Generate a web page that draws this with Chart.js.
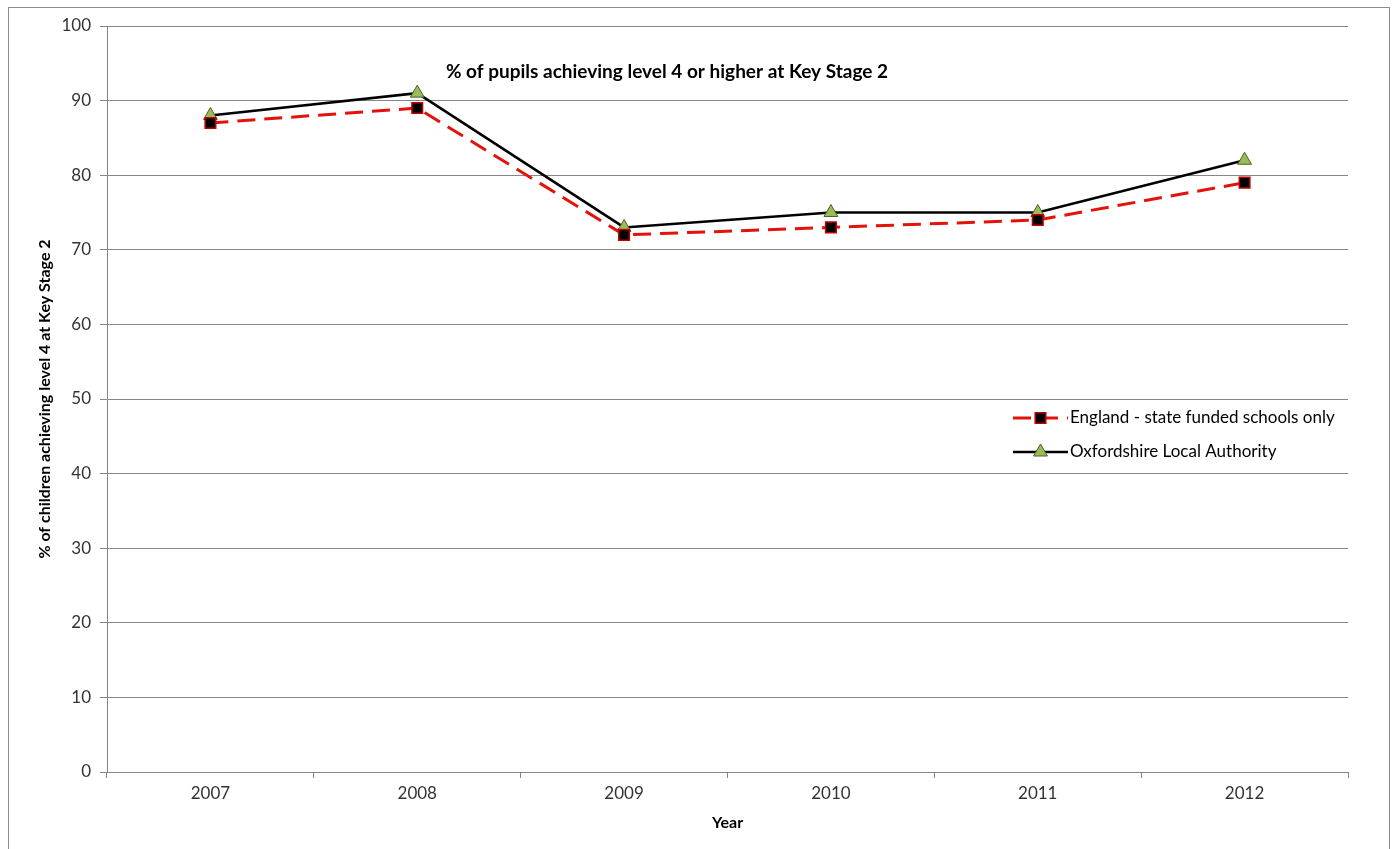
<!DOCTYPE html>
<html>
<head>
<meta charset="utf-8">
<script src="https://cdn.jsdelivr.net/npm/chart.js@4"></script>
<style>
  html, body { margin: 0; padding: 0; background: #fff; overflow: hidden; }
  #wrap { position: relative; width: 1392px; height: 849px; }
  #frame { position: absolute; left: 8px; top: 7px; width: 1382px; height: 860px; border: 1px solid #8c8c8c; box-sizing: border-box; }
  canvas { position: absolute; left: 0; top: 0; }
</style>
</head>
<body>
<div id="wrap">
  <div id="frame"></div>
  <canvas id="chart" width="1392" height="849"></canvas>
</div>
<script>
// data
const years = ['2007', '2008', '2009', '2010', '2011', '2012'];
const england = [87, 89, 72, 73, 74, 79];
const oxfordshire = [88, 91, 73, 75, 75, 82];
const yTicks = [0, 10, 20, 30, 40, 50, 60, 70, 80, 90, 100];

const chartTitle = '% of pupils achieving level 4 or higher at Key Stage 2';
const FONT = 'Lato, "Noto Sans", sans-serif';

// title and legend drawn inside the plot area
const insidePlugin = {
    id: 'inside',
    afterDraw(chart) {
        const ctx = chart.ctx;
        ctx.save();
        ctx.fillStyle = '#000';
        ctx.font = 'bold 19px ' + FONT;
        ctx.textAlign = 'center';
        ctx.textBaseline = 'middle';
        ctx.fillText(chartTitle, 667, 72);

        // legend
        const x0 = 1013, x1 = 1068;
        const ys = [418, 452];
        chart.data.datasets.forEach((ds, i) => {
            const y = ys[i];
            ctx.strokeStyle = ds.borderColor;
            ctx.lineWidth = ds.borderWidth;
            ctx.setLineDash(ds.borderDash || []);
            ctx.beginPath();
            ctx.moveTo(x0, y);
            ctx.lineTo(x1, y);
            ctx.stroke();
            ctx.setLineDash([]);
            ctx.fillStyle = ds.pointBackgroundColor;
            ctx.strokeStyle = ds.pointBorderColor;
            ctx.lineWidth = ds.pointBorderWidth;
            Chart.helpers.drawPoint(ctx, {
                pointStyle: ds.pointStyle,
                radius: ds.pointRadius,
                borderWidth: ds.pointBorderWidth
            }, (x0 + x1) / 2, y);
            ctx.fillStyle = '#000';
            ctx.font = '17px ' + FONT;
            ctx.textAlign = 'left';
            ctx.fillText(ds.label, x1 + 2, y);
        });
        ctx.restore();
    }
};

new Chart(document.getElementById('chart').getContext('2d'), {
    type: 'line',
    data: {
        labels: years,
        datasets: [
            {
                label: 'England - state funded schools only',
                data: england,
                borderColor: '#e3120b',
                borderWidth: 3,
                borderDash: [18, 9],
                pointStyle: 'rect',
                pointRadius: 7.5,
                pointBorderWidth: 1.5,
                pointBackgroundColor: '#000',
                pointBorderColor: '#c00000',
                tension: 0
            },
            {
                label: 'Oxfordshire Local Authority',
                data: oxfordshire,
                borderColor: '#000',
                borderWidth: 2.5,
                pointStyle: 'triangle',
                pointRadius: 8,
                pointBorderWidth: 1,
                pointBackgroundColor: '#9bbb59',
                pointBorderColor: '#4f6228',
                tension: 0
            }
        ]
    },
    options: {
        responsive: false,
        animation: false,
        devicePixelRatio: 1,
        layout: { padding: { left: 0, top: 26, right: 44, bottom: 0 } },
        plugins: {
            legend: { display: false },
            title: { display: false },
            tooltip: { enabled: false }
        },
        scales: {
            y: {
                min: 0,
                max: 100,
                afterBuildTicks: s => { s.ticks = yTicks.map(v => ({ value: v })); },
                afterFit: s => { s.width = 107; },
                grid: { color: '#868686', lineWidth: 1, tickLength: 7, drawTicks: true },
                border: { color: '#868686' },
                ticks: { color: '#333', font: { family: FONT, size: 17 }, padding: 9 },
                title: {
                    display: true,
                    text: '% of children achieving level 4 at Key Stage 2',
                    color: '#000',
                    font: { family: FONT, size: 16, weight: 'bold' },
                    padding: { top: 35, bottom: 0 }
                }
            },
            x: {
                offset: true,
                afterFit: s => { s.height = 77; },
                grid: { offset: true, drawOnChartArea: false, drawTicks: true, tickLength: 6, color: '#868686' },
                border: { color: '#868686' },
                ticks: { color: '#333', font: { family: FONT, size: 17 }, padding: 5 },
                title: {
                    display: true,
                    text: 'Year',
                    color: '#000',
                    font: { family: FONT, size: 16, weight: 'bold' },
                    padding: { top: 0, bottom: 17 }
                }
            }
        }
    },
    plugins: [insidePlugin]
});
</script>
</body>
</html>
